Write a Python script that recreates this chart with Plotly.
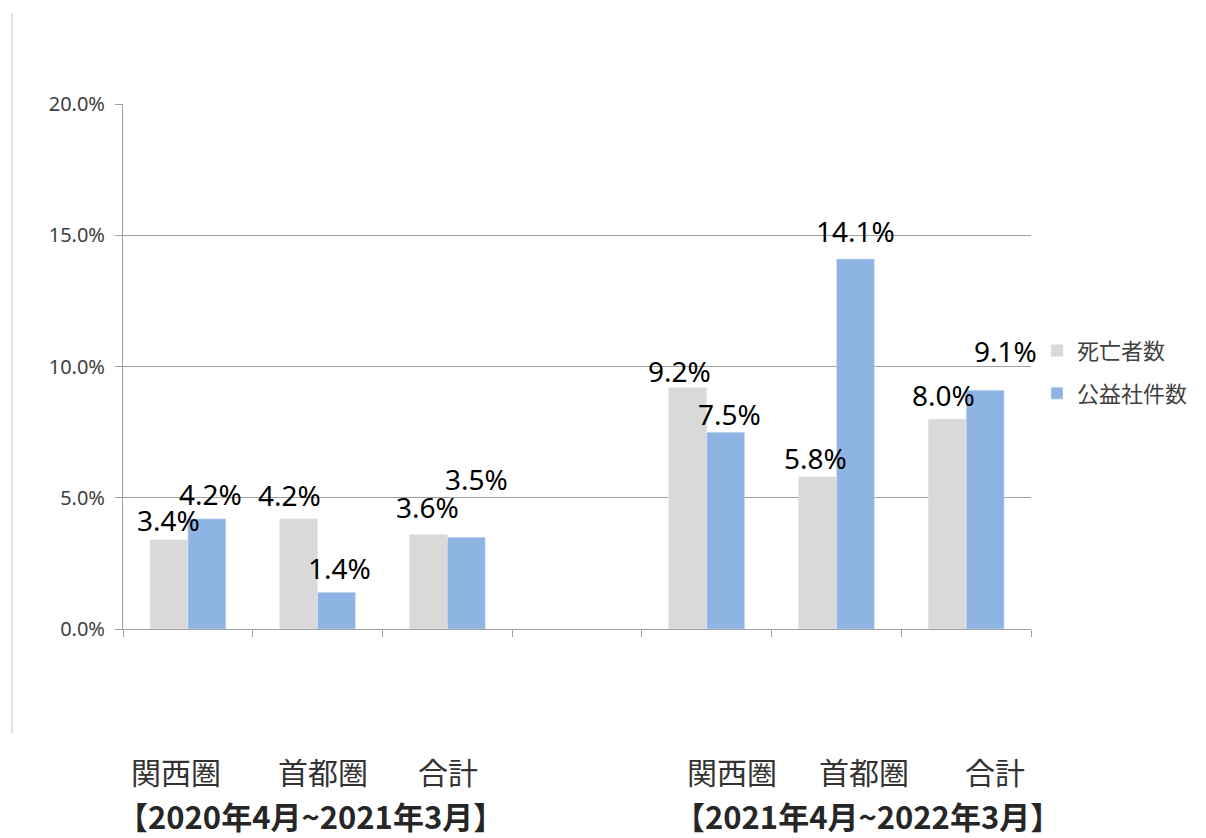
import plotly.graph_objects as go

# ---- data ----
slots = [0, 1, 2, 4, 5, 6]  # slot 3 is an empty spacer between periods
categories = ["関西圏", "首都圏", "合計", "関西圏", "首都圏", "合計"]
periods = ["【2020年4月~2021年3月】", "【2021年4月~2022年3月】"]
series_names = ["死亡者数", "公益社件数"]
deaths = [0.034, 0.042, 0.036, 0.092, 0.058, 0.080]
cases = [0.042, 0.014, 0.035, 0.075, 0.141, 0.091]
y_ticks = [0.0, 0.05, 0.10, 0.15, 0.20]

GRAY = "#d9d9d9"
BLUE = "#8eb4e3"
FONT = "Noto Sans, Noto Sans CJK JP, sans-serif"
JFONT = "Noto Sans CJK JP, Noto Sans, sans-serif"

fig = go.Figure()
fig.add_trace(go.Bar(x=slots, y=deaths, name=series_names[0], marker_color=GRAY,
                     legendgroup="a", hoverinfo="y"))
fig.add_trace(go.Bar(x=slots, y=cases, name=series_names[1], marker_color=BLUE,
                     legendgroup="b", hoverinfo="y"))

# data labels (manual Excel-like placement: pixel shifts from each bar top)
bar_half = (1 - 0.414) / 4
shift_d = [(0, 20), (-9, 24), (-1, 28), (-8, 17), (-2, 19), (-4, 24)]
shift_c = [(4, 25), (3, 24), (10, 58), (4, 18), (0, 28), (20, 39)]
for s, v, (dx, dy) in zip(slots, deaths, shift_d):
    fig.add_annotation(x=s - bar_half, y=v, xref="x", yref="y", text=f"{v*100:.1f}%",
                       showarrow=False, xshift=dx, yshift=dy, borderpad=0,
                       font=dict(family=FONT, size=28, color="#000000"))
for s, v, (dx, dy) in zip(slots, cases, shift_c):
    fig.add_annotation(x=s + bar_half, y=v, xref="x", yref="y", text=f"{v*100:.1f}%",
                       showarrow=False, xshift=dx, yshift=dy, borderpad=0,
                       font=dict(family=FONT, size=28, color="#000000"))

# category labels below the axis
cat_x = [-0.092, 1.042, 2.005, 4.195, 5.21, 6.22]
for xx, t in zip(cat_x, categories):
    fig.add_annotation(x=xx, y=-0.2705, xref="x", yref="paper", text=t, showarrow=False,
                       borderpad=0, yanchor="middle",
                       font=dict(family=JFONT, size=30, color="#333333"))
for xx, t in zip([0.943, 5.24], periods):
    fig.add_annotation(x=xx, y=-0.3543, xref="x", yref="paper", text=f"<b>{t}</b>",
                       showarrow=False, yanchor="middle", borderpad=0,
                       font=dict(family=JFONT, size=31, color="#262626"))

# thin left border line
fig.add_shape(type="line", xref="paper", yref="paper", x0=-0.1222, x1=-0.1222,
              y0=1.1733, y1=-0.198, line=dict(color="#d9d9d9", width=1.5))

fig.update_layout(
    width=1206, height=838,
    margin=dict(l=123, r=175, t=104, b=209),
    paper_bgcolor="white", plot_bgcolor="white",
    barmode="group", bargap=0.414, bargroupgap=0,
    font=dict(family=FONT),
    showlegend=True,
    legend=dict(x=1.0066, xanchor="left", y=0.57, yanchor="top",
                font=dict(family=JFONT, size=22, color="#404040"),
                traceorder="grouped", tracegroupgap=11, itemwidth=30,
                bgcolor="rgba(0,0,0,0)"),
    xaxis=dict(range=[-0.5, 6.5], tickmode="array",
               tickvals=[-0.5, 0.5, 1.5, 2.5, 3.5, 4.5, 5.5, 6.5],
               ticktext=[""] * 8, ticks="outside", ticklen=7, tickcolor="#a0a0a0",
               showgrid=False, showline=True, linecolor="#a0a0a0", linewidth=1,
               zeroline=False, fixedrange=True),
    yaxis=dict(range=[0, 0.2], tickmode="array", tickvals=y_ticks, tickformat=".1%",
               ticks="outside", ticklen=7, tickcolor="#a0a0a0", ticklabelstandoff=6,
               showgrid=True, gridcolor="#a0a0a0", gridwidth=1,
               showline=True, linecolor="#a0a0a0", linewidth=1, zeroline=False,
               tickfont=dict(family=FONT, size=20, color="#404040"), fixedrange=True),
)

fig.write_html("out.html", config={"displayModeBar": False},
               post_script="document.body.style.margin='0';")
